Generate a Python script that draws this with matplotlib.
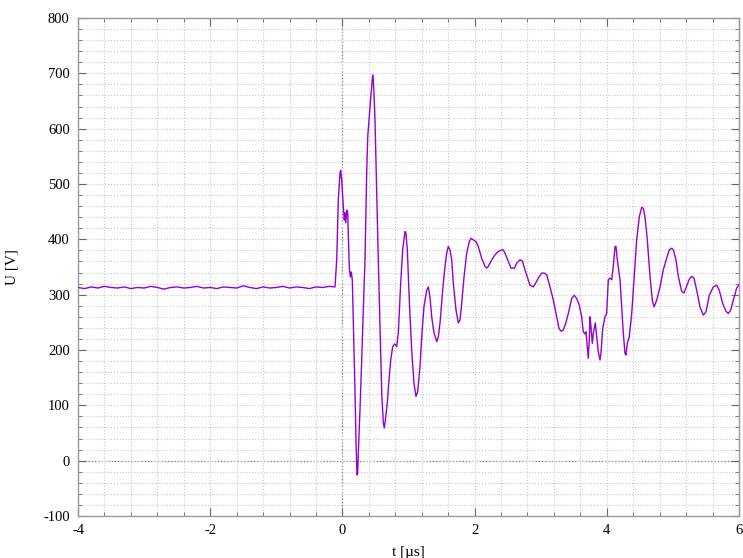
import matplotlib
matplotlib.use("Agg")
import matplotlib.pyplot as plt
import numpy as np
from matplotlib.ticker import MultipleLocator

# baseline before the pulse, one value every 0.1 us from -4.0 to -0.2
base_t = np.round(np.arange(-4.0, -0.15, 0.1), 2)
base_u = [313, 311, 314, 312, 315, 313, 312, 314, 311, 313,
          312, 315, 313, 310, 313, 314, 312, 313, 315, 312,
          313, 311, 314, 313, 312, 316, 313, 311, 314, 312,
          313, 315, 312, 314, 313, 311, 314, 313, 315]

# pulse and ringing
pulse_t = [-0.112, -0.086, -0.062, -0.036, -0.026, -0.011, 0.014, 0.029, 0.039, 0.050,
           0.070, 0.080, 0.089, 0.104, 0.120, 0.135, 0.150, 0.165, 0.191, 0.206,
           0.221, 0.231, 0.241, 0.266, 0.292, 0.316, 0.342, 0.368, 0.383, 0.402,
           0.418, 0.443, 0.458, 0.467, 0.478, 0.493, 0.519, 0.543, 0.569, 0.595,
           0.619, 0.634, 0.655, 0.679, 0.705, 0.731, 0.761, 0.791, 0.821, 0.846,
           0.882, 0.912, 0.947, 0.962, 0.982, 1.012, 1.048, 1.083, 1.113, 1.139,
           1.174, 1.204, 1.234, 1.275, 1.300, 1.325, 1.351, 1.386, 1.427, 1.451,
           1.477, 1.517, 1.552, 1.578, 1.602, 1.628, 1.654, 1.678, 1.719, 1.754,
           1.779, 1.805, 1.840, 1.880, 1.920, 1.946, 1.980, 2.021, 2.056, 2.107,
           2.157, 2.183, 2.207, 2.259, 2.309, 2.359, 2.410, 2.434, 2.460, 2.510,
           2.551, 2.601, 2.637, 2.687, 2.722, 2.762, 2.803, 2.838, 2.888, 2.924,
           2.964, 3.015, 3.054, 3.091, 3.141, 3.191, 3.242, 3.277, 3.307, 3.342,
           3.378, 3.418, 3.469, 3.508, 3.545, 3.584, 3.620, 3.644, 3.670, 3.685,
           3.705, 3.720, 3.735, 3.746, 3.761, 3.781, 3.796, 3.826, 3.847, 3.871,
           3.897, 3.912, 3.938, 3.973, 3.998, 4.023, 4.048, 4.074, 4.098, 4.124,
           4.139, 4.159, 4.200, 4.225, 4.250, 4.275, 4.290, 4.310, 4.340, 4.377,
           4.411, 4.452, 4.492, 4.528, 4.552, 4.578, 4.613, 4.654, 4.689, 4.715,
           4.755, 4.805, 4.855, 4.906, 4.946, 4.982, 5.006, 5.047, 5.082, 5.133,
           5.168, 5.209, 5.248, 5.284, 5.319, 5.360, 5.410, 5.460, 5.501, 5.551,
           5.611, 5.663, 5.702, 5.753, 5.803, 5.838, 5.874, 5.914, 5.965, 5.995]
pulse_u = [314, 363, 471, 520, 525, 507, 459, 435, 448, 430,
           453, 448, 411, 350, 332, 341, 326, 254, 122, 32,
           -26, -22, 14, 92, 182, 272, 363, 525, 585, 616,
           640, 676, 697, 688, 664, 616, 484, 363, 242, 122,
           68, 59, 79, 104, 146, 182, 206, 211, 206, 231,
           321, 381, 414, 411, 381, 290, 200, 140, 116, 125,
           170, 231, 278, 308, 314, 296, 260, 231, 215, 224,
           249, 308, 351, 375, 387, 381, 363, 321, 272, 249,
           254, 284, 332, 375, 396, 402, 399, 396, 387, 366,
           351, 348, 351, 363, 372, 378, 381, 381, 375, 360,
           348, 348, 357, 363, 361, 345, 330, 317, 314, 321,
           330, 339, 339, 336, 314, 290, 260, 239, 234, 236,
           248, 266, 293, 299, 293, 281, 260, 233, 229, 233,
           206, 185, 218, 260, 242, 212, 230, 249, 224, 197,
           182, 194, 239, 260, 266, 327, 330, 327, 351, 387,
           387, 363, 327, 278, 230, 194, 191, 212, 224, 266,
           327, 399, 441, 458, 456, 441, 399, 333, 290, 278,
           290, 314, 345, 366, 381, 384, 381, 363, 333, 306,
           303, 316, 328, 333, 330, 308, 278, 263, 269, 299,
           314, 317, 308, 284, 270, 266, 272, 290, 312, 317]

t = np.concatenate([base_t, pulse_t])
u = np.concatenate([base_u, pulse_u])

plt.rcParams["font.family"] = ["Liberation Serif", "DejaVu Serif"]
plt.rcParams["axes.unicode_minus"] = False

fig = plt.figure(figsize=(7.43, 5.58), dpi=100)
ax = fig.add_axes([0.105, 0.0753, 0.8896, 0.8924])

ax.plot(t, u, color="#9400d3", lw=1.0, zorder=3)

ax.set_xlim(-4, 6)
ax.set_ylim(-100, 800)
ax.xaxis.set_major_locator(MultipleLocator(2))
ax.xaxis.set_minor_locator(MultipleLocator(0.4))
ax.yaxis.set_major_locator(MultipleLocator(100))
ax.yaxis.set_minor_locator(MultipleLocator(20))

ax.grid(which="both", color="#c8c8c8", ls=":", lw=0.8, zorder=0)
ax.axhline(0, color="#777777", ls=":", lw=0.9, zorder=1)
ax.axvline(0, color="#777777", ls=":", lw=0.9, zorder=1)

for s in ax.spines.values():
    s.set_color("#999999")
    s.set_linewidth(1.0)
ax.tick_params(which="both", direction="in", top=True, right=True,
               color="#666666", labelsize=10.5, pad=6)
ax.tick_params(which="major", length=6)
ax.tick_params(which="minor", length=3)

ax.set_xlabel("t [µs]", fontsize=11, labelpad=6)
ax.set_ylabel("U [V]", fontsize=11, labelpad=18)

fig.savefig("out.png", dpi=100)
